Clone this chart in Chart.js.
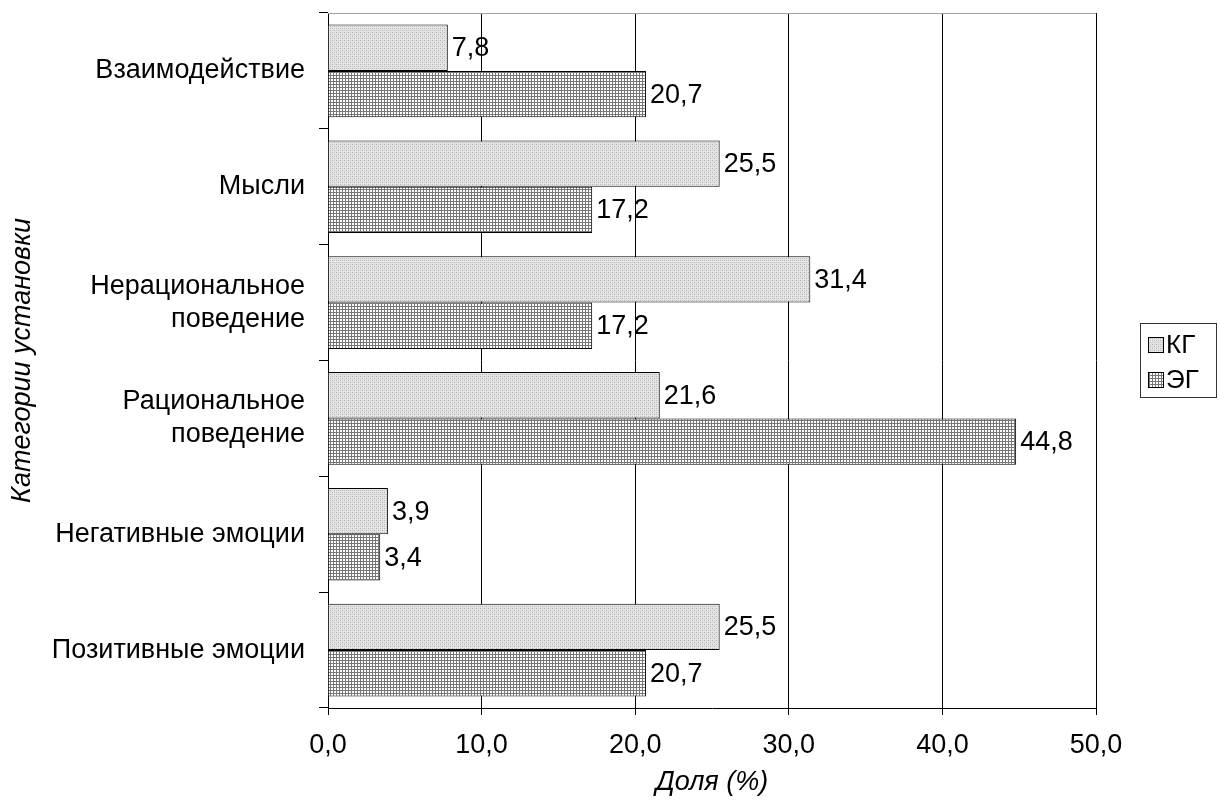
<!DOCTYPE html>
<html>
<head>
    <title>Категории установки</title>
    <script src="https://cdn.jsdelivr.net/npm/chart.js"></script>
    <style>
        body {
            background-color: white;
            margin: 0;
            padding: 0;
        }
        #wrap {
            width: 1220px;
            height: 806px;
        }
    </style>
</head>
<body>
    <div id="wrap">
        <canvas id="chart" width="1220" height="806"></canvas>
    </div>

    <script>
    // data
    const categories = [
        'Взаимодействие',
        'Мысли',
        ['Нерациональное', 'поведение'],
        ['Рациональное', 'поведение'],
        'Негативные эмоции',
        'Позитивные эмоции'
    ];
    const seriesNames = ['КГ', 'ЭГ'];
    const kgValues = [7.8, 25.5, 31.4, 21.6, 3.9, 25.5];
    const egValues = [20.7, 17.2, 17.2, 44.8, 3.4, 20.7];
    const xTicks = [0, 10, 20, 30, 40, 50];

    const FONT = 'Liberation Sans, Arial, sans-serif';
    const FS = 27;

    // fill patterns like the old excel ones
    function makeDots() {
        const c = document.createElement('canvas');
        c.width = 4; c.height = 4;
        const g = c.getContext('2d');
        g.fillStyle = '#e4e4e4';
        g.fillRect(0, 0, 4, 4);
        g.fillStyle = '#b4b4b4';
        g.fillRect(0, 0, 1, 1);
        g.fillRect(2, 2, 1, 1);
        g.fillStyle = '#cccccc';
        g.fillRect(2, 0, 1, 1);
        g.fillRect(0, 2, 1, 1);
        return g.createPattern(c, 'repeat');
    }
    function makeGrid() {
        const c = document.createElement('canvas');
        c.width = 3; c.height = 3;
        const g = c.getContext('2d');
        g.fillStyle = '#ffffff';
        g.fillRect(0, 0, 3, 3);
        g.fillStyle = '#777777';
        g.fillRect(0, 0, 3, 1);
        g.fillRect(0, 0, 1, 3);
        return g.createPattern(c, 'repeat');
    }
    const kgFill = makeDots();
    const egFill = makeGrid();

    function fmt(v) {
        return v.toFixed(1).replace('.', ',');
    }

    // value labels at the end of each bar
    const valueLabels = {
        id: 'valueLabels',
        afterDatasetsDraw(chart) {
            const ctx = chart.ctx;
            ctx.save();
            ctx.font = FS + 'px ' + FONT;
            ctx.fillStyle = '#000';
            ctx.textAlign = 'left';
            ctx.textBaseline = 'middle';
            chart.data.datasets.forEach((ds, i) => {
                chart.getDatasetMeta(i).data.forEach((bar, j) => {
                    ctx.fillText(fmt(ds.data[j]), bar.x + 4, bar.y + 1);
                });
            });
            ctx.restore();
        }
    };

    // top frame line + legend box on the right
    const extras = {
        id: 'extras',
        afterDraw(chart) {
            const ctx = chart.ctx;
            const a = chart.chartArea;
            ctx.save();
            ctx.strokeStyle = '#a0a0a0';
            ctx.lineWidth = 1;
            ctx.beginPath();
            ctx.moveTo(a.left, Math.round(a.top) + 0.5);
            ctx.lineTo(a.right, Math.round(a.top) + 0.5);
            ctx.stroke();

            // legend
            ctx.strokeStyle = '#333';
            ctx.strokeRect(1140.5, 323.5, 76, 74);
            const fills = [kgFill, egFill];
            const rows = [345, 380];
            ctx.font = (FS - 1) + 'px ' + FONT;
            ctx.textBaseline = 'middle';
            rows.forEach((y, i) => {
                ctx.fillStyle = fills[i];
                ctx.fillRect(1148, y - 8, 15, 15);
                ctx.strokeStyle = '#000';
                ctx.strokeRect(1148.5, y - 7.5, 15, 15);
                ctx.fillStyle = '#000';
                ctx.fillText(seriesNames[i], 1166, y + 1);
            });
            ctx.restore();
        }
    };

    new Chart(document.getElementById('chart'), {
        type: 'bar',
        data: {
            labels: categories,
            datasets: [{
                label: seriesNames[0],
                data: kgValues,
                backgroundColor: kgFill,
                borderColor: '#000',
                borderWidth: 1,
                borderSkipped: 'start'
            }, {
                label: seriesNames[1],
                data: egValues,
                backgroundColor: egFill,
                borderColor: '#000',
                borderWidth: 1,
                borderSkipped: 'start'
            }]
        },
        options: {
            indexAxis: 'y',
            responsive: false,
            animation: false,
            categoryPercentage: 0.8,
            barPercentage: 1.0,
            layout: {
                padding: { left: 0, right: 124, top: 13, bottom: 0 }
            },
            plugins: {
                legend: { display: false },
                tooltip: { enabled: false }
            },
            scales: {
                x: {
                    min: 0,
                    max: 50,
                    afterFit: s => { s.height = 98; },
                    afterBuildTicks: s => { s.ticks = xTicks.map(v => ({ value: v })); },
                    ticks: {
                        color: '#000',
                        padding: 14,
                        font: { family: FONT, size: FS },
                        callback: v => fmt(v)
                    },
                    grid: {
                        color: '#000',
                        lineWidth: 1,
                        tickLength: 7
                    },
                    border: { color: '#000', width: 1 },
                    title: {
                        display: true,
                        text: 'Доля (%)',
                        color: '#000',
                        font: { family: FONT, size: FS, style: 'italic' },
                        padding: { top: 2, bottom: 7 }
                    }
                },
                y: {
                    afterFit: s => {
                        s.width = 328;
                        s.paddingTop = 0;
                        s.paddingBottom = 0;
                    },
                    ticks: {
                        color: '#000',
                        padding: 14,
                        font: { family: FONT, size: FS, lineHeight: 1.22 }
                    },
                    grid: {
                        drawOnChartArea: false,
                        color: '#000',
                        tickLength: 9,
                        offset: true
                    },
                    border: { color: '#000', width: 1 },
                    title: {
                        display: true,
                        text: 'Категории установки',
                        color: '#000',
                        font: { family: FONT, size: FS, style: 'italic' },
                        padding: { top: 6, bottom: 0 }
                    }
                }
            }
        },
        plugins: [valueLabels, extras]
    });
    </script>
</body>
</html>
